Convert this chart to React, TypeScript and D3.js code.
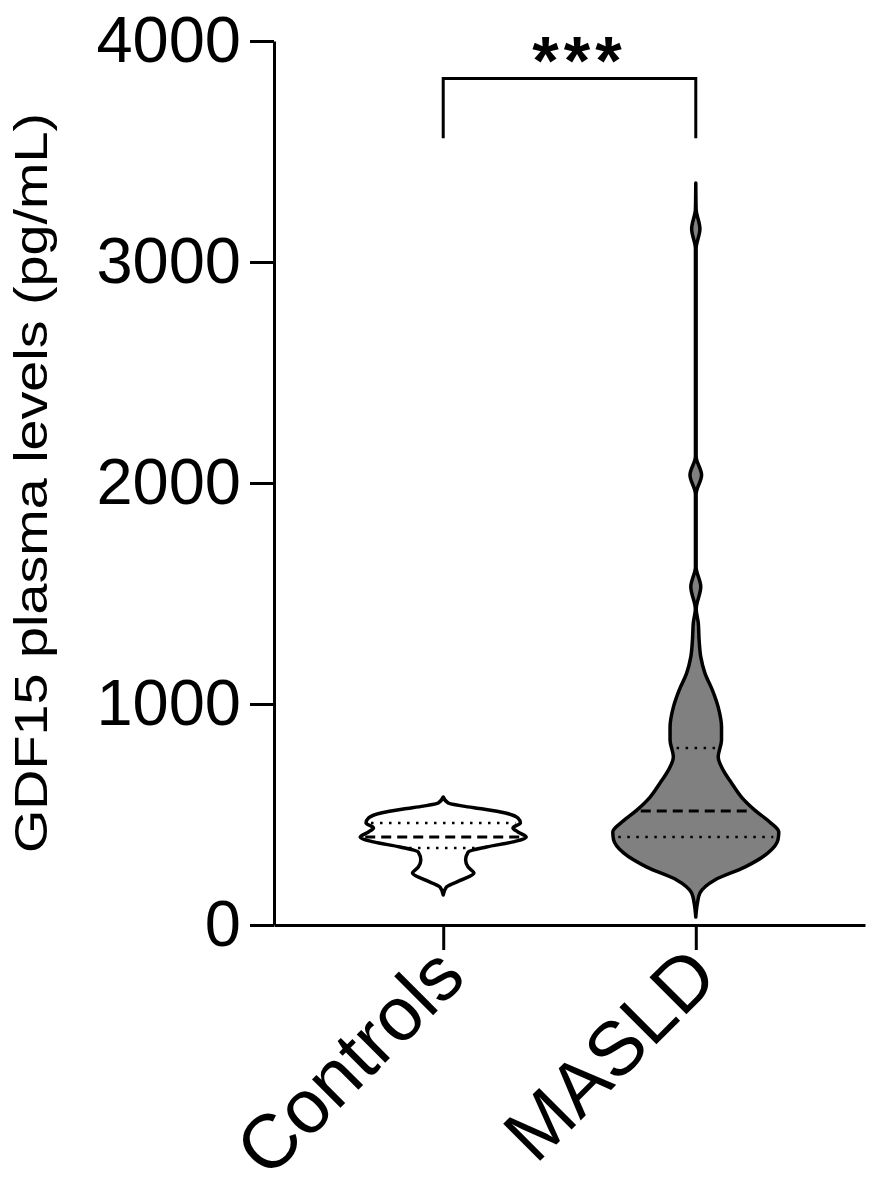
import React, { useEffect, useRef } from "react";
import * as d3 from "d3";

const categories = ["Controls", "MASLD"];
const yTicks = [0, 1000, 2000, 3000, 4000];

// violin outlines: level (pg/mL) and relative half width
const controlsLevels = [136, 172, 204, 235, 262, 294, 330, 353, 376, 398, 421, 439, 462, 484, 507, 525, 538, 552, 579];
const controlsDensity = [0, 0.04, 0.22, 0.37, 0.3, 0.27, 0.3, 0.52, 0.84, 1.0, 0.9, 0.84, 0.93, 0.9, 0.75, 0.48, 0.24, 0.06, 0];

const maslLevels = [36, 100, 145, 204, 262, 326, 385, 421, 466, 520, 579, 643, 701, 760, 837, 896, 986, 1063, 1140, 1213, 1290, 1367, 1430, 1530, 1620, 1950, 2036, 2120, 3060, 3150, 3240, 3357];
const maslDensity = [0, 0.02, 0.05, 0.23, 0.59, 0.87, 0.99, 1.0, 0.89, 0.71, 0.55, 0.43, 0.33, 0.27, 0.31, 0.31, 0.27, 0.2, 0.11, 0.06, 0.04, 0.03, 0.005, 0.06, 0.004, 0.004, 0.07, 0.004, 0.004, 0.05, 0.004, 0];

// 25th, 50th and 75th percentiles
const controlsQuartiles = [348, 398, 462];
const maslQuartiles = [398, 516, 801];

const fills = ["#ffffff", "#808080"];
const yLabel = "GDF15 plasma levels (pg/mL)";
const stars = "***";

export default function App() {
  const ref = useRef<SVGSVGElement>(null);

  useEffect(() => {
    document.body.style.margin = "0";
    const svg = d3.select(ref.current);
    svg.selectAll("*").remove();

    const left = 274, right = 865, top = 41, bottom = 925;
    const font = "'Liberation Sans', Arial, sans-serif";

    const y = d3.scaleLinear().domain([0, 4000]).range([bottom, top]);
    const x = d3.scalePoint().domain(categories).range([left, right]).padding(0.67);
    const w = d3.scaleLinear().domain([0, 1]).range([0, 83]);

    const groups = [
      { name: categories[0], levels: controlsLevels, density: controlsDensity, q: controlsQuartiles, fill: fills[0] },
      { name: categories[1], levels: maslLevels, density: maslDensity, q: maslQuartiles, fill: fills[1] },
    ];

    groups.forEach((g) => {
      const cx = x(g.name) as number;
      const pts = g.levels.map((v, i) => ({ v, d: g.density[i] }));
      const area = d3
        .area<{ v: number; d: number }>()
        .y((p) => y(p.v))
        .x0((p) => cx - w(p.d))
        .x1((p) => cx + w(p.d))
        .curve(d3.curveMonotoneY);
      svg
        .append("path")
        .attr("d", area(pts))
        .attr("fill", g.fill)
        .attr("stroke", "#000")
        .attr("stroke-width", 3.5)
        .attr("stroke-linejoin", "round");

      const dens = d3.scaleLinear().domain(g.levels).range(g.density);
      g.q.forEach((v, i) => {
        const half = w(dens(v)) - 5;
        svg
          .append("line")
          .attr("x1", cx - half)
          .attr("x2", cx + half)
          .attr("y1", y(v))
          .attr("y2", y(v))
          .attr("stroke", "#000")
          .attr("stroke-width", i === 1 ? 3 : 2.5)
          .attr("stroke-dasharray", i === 1 ? "10,6" : "2.5,6.5");
      });
    });

    // y axis
    svg
      .append("g")
      .attr("transform", `translate(${left},0)`)
      .call(d3.axisLeft(y).tickValues(yTicks).tickSize(24).tickSizeOuter(0).tickPadding(9).tickFormat(d3.format("d")))
      .call((a) => a.selectAll("text").attr("font-size", 65).attr("font-family", font).attr("fill", "#000"))
      .call((a) => a.selectAll("line,path").attr("stroke", "#000").attr("stroke-width", 3));

    // x axis
    svg
      .append("g")
      .attr("transform", `translate(0,${bottom})`)
      .call(d3.axisBottom(x).tickSize(25).tickSizeOuter(0).tickFormat(() => ""))
      .call((a) => a.selectAll("line,path").attr("stroke", "#000").attr("stroke-width", 3));

    categories.forEach((c) => {
      svg
        .append("text")
        .attr("transform", `translate(${(x(c) as number) + 25},980) rotate(-45)`)
        .attr("text-anchor", "end")
        .attr("font-family", font)
        .attr("font-size", 76)
        .text(c);
    });

    // y label
    svg
      .append("text")
      .attr("transform", `translate(47,${y(2000)}) rotate(-90)`)
      .attr("text-anchor", "middle")
      .attr("font-family", font)
      .attr("font-size", 46)
      .attr("textLength", 740)
      .attr("lengthAdjust", "spacingAndGlyphs")
      .text(yLabel);

    // significance bracket
    const x0 = x(categories[0]) as number;
    const x1 = x(categories[1]) as number;
    svg
      .append("path")
      .attr("d", `M${x0},${y(3560)}V${y(3830)}H${x1}V${y(3560)}`)
      .attr("fill", "none")
      .attr("stroke", "#000")
      .attr("stroke-width", 3);
    svg
      .append("text")
      .attr("x", (x0 + x1) / 2 + 10)
      .attr("y", 84)
      .attr("text-anchor", "middle")
      .attr("font-family", font)
      .attr("font-weight", "bold")
      .attr("font-size", 68)
      .attr("letter-spacing", 5)
      .text(stars);
  }, []);

  return <svg ref={ref} width={893} height={1197} style={{ display: "block", background: "#fff" }} />;
}
